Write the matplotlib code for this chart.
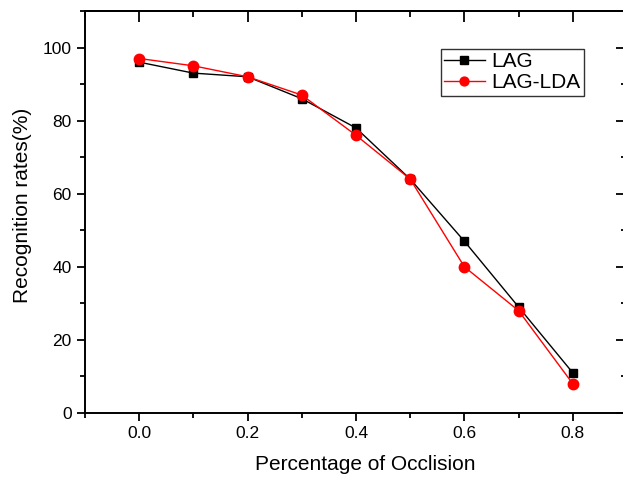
import numpy as np
import matplotlib
matplotlib.use("Agg")
import matplotlib.pyplot as plt
from matplotlib.ticker import MultipleLocator, NullFormatter

plt.rcParams['font.family'] = ['Liberation Sans', 'DejaVu Sans']

occlusion = [0.0, 0.1, 0.2, 0.3, 0.4, 0.5, 0.6, 0.7, 0.8]
lag = [96, 93, 92, 86, 78, 64, 47, 29, 11]
lag_lda = [97, 95, 92, 87, 76, 64, 40, 28, 8]

fig = plt.figure(figsize=(6.23, 4.78), dpi=100)
ax = fig.add_axes([0.1364, 0.136, 0.870, 0.841])

ax.plot(occlusion, lag, color='black', marker='s', markersize=6.2, lw=1, label='LAG')
ax.plot(occlusion, lag_lda, color='red', marker='o', markersize=7.5, lw=1, label='LAG-LDA')

ax.set_xlim(-0.1, 0.9)
ax.set_ylim(0, 110)
ax.set_xticks([0.0, 0.2, 0.4, 0.6, 0.8])
ax.set_xticklabels(['0.0', '0.2', '0.4', '0.6', '0.8'])
ax.xaxis.set_minor_locator(MultipleLocator(0.1))
ax.yaxis.set_major_locator(MultipleLocator(20))
ax.yaxis.set_minor_locator(MultipleLocator(10))

for s in ax.spines.values():
    s.set_linewidth(1.4)

ax.tick_params(axis='both', which='major', direction='out', length=6, width=1.3, labelsize=12.5)
ax.tick_params(axis='both', which='minor', direction='out', length=3.5, width=1.3)

# inward ticks on top and right
top = ax.secondary_xaxis('top')
top.set_xticks([0.0, 0.2, 0.4, 0.6, 0.8])
top.xaxis.set_minor_locator(MultipleLocator(0.1))
top.tick_params(which='major', direction='in', length=8, width=1.3, labeltop=False)
top.tick_params(which='minor', direction='in', length=4, width=1.3)
top.xaxis.set_major_formatter(NullFormatter())
top.spines['top'].set_linewidth(1.4)

right = ax.secondary_yaxis('right')
right.yaxis.set_major_locator(MultipleLocator(20))
right.yaxis.set_minor_locator(MultipleLocator(10))
right.tick_params(which='major', direction='in', length=8, width=1.3, labelright=False)
right.tick_params(which='minor', direction='in', length=4, width=1.3)
right.yaxis.set_major_formatter(NullFormatter())

ax.set_xlabel('Percentage of Occlision', fontsize=15, labelpad=10)
ax.set_ylabel('Recognition rates(%)', fontsize=15, labelpad=8)
ax.xaxis.label.set_x(0.518)
ax.yaxis.label.set_y(0.517)

leg = ax.legend(loc='upper left', bbox_to_anchor=(0.656, 0.905), fontsize=15,
                frameon=True, fancybox=False, edgecolor='black', markerscale=0.85,
                handlelength=2.0, borderpad=0.15, labelspacing=0.1, handletextpad=0.3,
                borderaxespad=0)
leg.get_frame().set_linewidth(1)

plt.savefig('out.png', dpi=100)
